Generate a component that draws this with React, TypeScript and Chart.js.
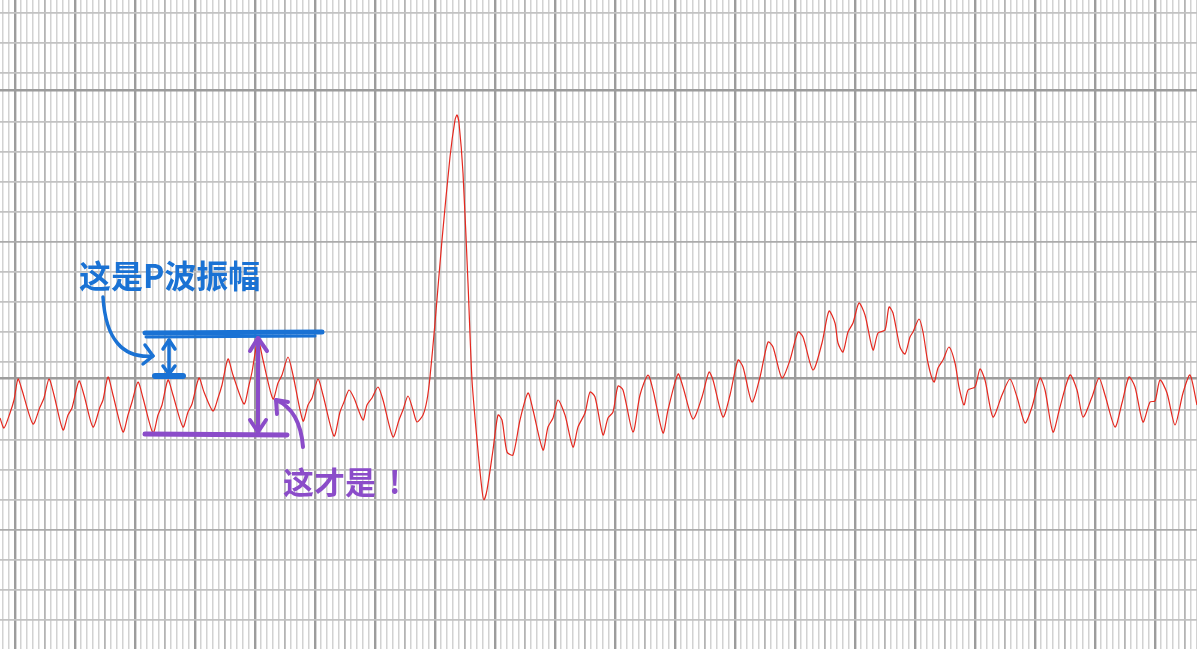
import React, { useEffect, useRef } from "react";
import { Chart, registerables } from "chart.js";

Chart.register(...registerables);

// ECG trace: sample index (150 Hz, 6 samples = one small box) and amplitude (arbitrary units)
const sampleIndex = [
  -15, -11, -5, -1, 3, 7, 18, 25, 29, 34, 39, 48, 53, 57, 64, 69, 78, 85, 88, 93,
  98, 108, 113, 117, 123, 128, 138, 143, 147, 153, 158, 168, 173, 177, 184, 189, 198, 203, 207, 213,
  218, 229, 234, 237, 243, 248, 258, 263, 267, 273, 278, 288, 293, 297, 303, 308, 319, 325, 329, 334,
  339, 348, 352, 357, 363, 368, 378, 384, 388, 393, 398, 402, 408, 412, 415, 420, 427, 435, 440, 442,
  444, 448, 453, 457, 462, 467, 469, 472, 478, 483, 487, 492, 498, 505, 513, 518, 528, 533, 538, 543,
  550, 558, 563, 570, 575, 580, 588, 593, 598, 603, 608, 618, 625, 633, 638, 648, 653, 663, 668, 678,
  687, 694, 698, 708, 715, 723, 728, 737, 745, 753, 758, 767, 775, 783, 788, 798, 807, 814, 820, 823,
  828, 833, 838, 844, 850, 858, 863, 870, 874, 878, 885, 890, 895, 898, 904, 908, 913, 919, 923, 928,
  934, 940, 944, 949, 953, 960, 965, 970, 978, 987, 995, 1002, 1010, 1017, 1025, 1030, 1038, 1045, 1055, 1062,
  1068, 1077, 1084, 1090, 1100, 1107, 1114, 1120, 1128, 1135, 1140, 1145, 1152, 1160, 1168, 1175, 1182,
];
const amplitude = [
  -40, -50, -35, -22, -1, -12, -46, -29, -20, -1, -17, -52, -37, -30, -3, -17, -49, -29, -22, 1,
  -17, -54, -37, -24, -4, -20, -55, -37, -27, -2, -17, -49, -34, -26, 0, -14, -33, -20, -7, 19,
  3, -26, -7, 6, 38, 18, -21, -5, 3, 21, 3, -43, -27, -20, -1, -17, -58, -34, -24, -12,
  -20, -42, -27, -20, -9, -22, -59, -42, -32, -18, -32, -44, -37, -22, 1, 55, 138, 221, 258, 263,
  255, 205, 95, -2, -62, -112, -122, -112, -72, -37, -42, -74, -77, -42, -15, -32, -72, -49, -40, -22,
  -37, -69, -49, -35, -14, -19, -57, -40, -34, -8, -12, -54, -17, 3, -12, -55, -32, 4, -9, -41,
  -19, 6, -2, -39, -17, 18, 11, -24, 1, 36, 31, 0, 18, 46, 41, 8, 35, 67, 55, 35,
  26, 46, 55, 75, 63, 28, 45, 48, 71, 65, 31, 24, 41, 46, 59, 46, 15, -4, 10, 18,
  31, 15, -9, -27, -12, -9, 9, -2, -39, -17, -1, -19, -45, -29, 0, -12, -54, -29, 3, -12,
  -39, -19, 0, -17, -49, -25, 1, -9, -44, -24, -23, -2, -15, -47, -15, 3, -27,
];

// grid (tick) values
const X_MIN = -15;
const X_MAX = 1182;
const Y_MIN = -271;
const Y_MAX = 378;
const smallBox = 6; // samples per small box
const xGridTicks: number[] = [];
for (let v = -12; v <= 1182; v += smallBox) xGridTicks.push(v);
const yGridDark = [0, 288];
const yGridMedium = [136, -152];
const yGridLight = [365, 335, 305, 256, 226, 196, 166, 106, 76, 46, 16, -32, -62, -92, -122, -182, -212, -242];

const BLUE = "#1a72d4";
const PURPLE = "#8b4cc9";

const annotationPlugin = {
  id: "handNotes",
  afterDatasetsDraw(chart: any) {
    const { ctx, scales } = chart;
    const X = (v: number) => scales.x.getPixelForValue(v);
    const Y = (v: number) => scales.y.getPixelForValue(v);
    ctx.save();
    ctx.lineCap = "round";
    ctx.lineJoin = "round";

    const line = (pts: number[][], color: string, w: number) => {
      ctx.strokeStyle = color;
      ctx.lineWidth = w;
      ctx.beginPath();
      pts.forEach((p, i) => (i ? ctx.lineTo(X(p[0]), Y(p[1])) : ctx.moveTo(X(p[0]), Y(p[1]))));
      ctx.stroke();
    };
    const curve = (s: number[], c: number[], e: number[], color: string, w: number) => {
      ctx.strokeStyle = color;
      ctx.lineWidth = w;
      ctx.beginPath();
      ctx.moveTo(X(s[0]), Y(s[1]));
      ctx.quadraticCurveTo(X(c[0]), Y(c[1]), X(e[0]), Y(e[1]));
      ctx.stroke();
    };

    // blue: amplitude lines
    line([[130, 45], [307, 46]], BLUE, 5);
    line([[131, 41], [300, 42]], BLUE, 3);
    line([[154, 38], [154, 4]], BLUE, 3.5);
    line([[148, 29], [154, 38], [160, 29]], BLUE, 3.5);
    line([[148, 12], [154, 4], [160, 12]], BLUE, 3.5);
    line([[140, 2], [168, 2]], BLUE, 6);
    curve([88, 81], [92, 18], [138, 22], BLUE, 3.5);
    line([[130, 33], [138, 22], [128, 14]], BLUE, 3.5);

    // purple: true amplitude
    line([[130, -56], [272, -57]], PURPLE, 5);
    line([[243, 40], [243, -54]], PURPLE, 4);
    line([[235, 27], [243, 40], [252, 27]], PURPLE, 4);
    line([[235, -42], [243, -54], [251, -42]], PURPLE, 4);
    curve([288, -69], [285, -32], [261, -22], PURPLE, 4);
    line([[273, -24], [261, -22], [262, -36]], PURPLE, 4);

    // texts
    ctx.textBaseline = "alphabetic";
    ctx.textAlign = "left";
    ctx.fillStyle = BLUE;
    ctx.font = 'bold 32px "Noto Sans CJK SC", sans-serif';
    ctx.fillText("这是P波振幅", X(64), Y(90));
    ctx.fillStyle = PURPLE;
    ctx.font = 'bold 31px "Noto Sans CJK SC", sans-serif';
    ctx.fillText("这才是", X(268), Y(-116));
    ctx.fillText("!", X(374), Y(-116));
    ctx.restore();
  },
};

export default function App() {
  const ref = useRef<HTMLCanvasElement | null>(null);
  useEffect(() => {
    document.body.style.margin = "0";
    const canvas = ref.current!;
    const chart = new Chart(canvas, {
      type: "line",
      data: {
        datasets: [
          {
            data: sampleIndex.map((x, i) => ({ x, y: amplitude[i] })),
            borderColor: "#e5281f",
            borderWidth: 1.2,
            pointRadius: 0,
            tension: 0.25,
            fill: false,
          },
        ],
      },
      options: {
        animation: false,
        responsive: false,
        devicePixelRatio: 1,
        events: [],
        layout: { padding: 0 },
        plugins: { legend: { display: false }, tooltip: { enabled: false } },
        scales: {
          x: {
            type: "linear",
            min: X_MIN,
            max: X_MAX,
            border: { display: false },
            ticks: { display: false },
            afterBuildTicks: (s: any) => {
              s.ticks = xGridTicks.map((v) => ({ value: v }));
            },
            grid: {
              drawTicks: false,
              tickLength: 0,
              color: (c: any) => {
                const k = Math.abs(Math.round(c.tick.value / smallBox));
                if (k % 10 === 0) return "#9c9c9c";
                if (k % 5 === 0) return "#b4b4b4";
                return "#d2d2d2";
              },
              lineWidth: (c: any) => {
                const k = Math.abs(Math.round(c.tick.value / smallBox));
                if (k % 10 === 0) return 2.4;
                if (k % 5 === 0) return 1.8;
                return 1.5;
              },
            },
          },
          y: {
            type: "linear",
            min: Y_MIN,
            max: Y_MAX,
            border: { display: false },
            ticks: { display: false },
            afterBuildTicks: (s: any) => {
              s.ticks = [...yGridDark, ...yGridMedium, ...yGridLight].map((v) => ({ value: v }));
            },
            grid: {
              drawTicks: false,
              tickLength: 0,
              color: (c: any) => {
                const v = c.tick.value;
                if (yGridDark.includes(v)) return "#9c9c9c";
                if (yGridMedium.includes(v)) return "#ababab";
                return "#c2c2c2";
              },
              lineWidth: (c: any) => {
                const v = c.tick.value;
                if (yGridDark.includes(v)) return 2.4;
                return 1.8;
              },
            },
          },
        },
      },
      plugins: [annotationPlugin],
    } as any);
    return () => chart.destroy();
  }, []);
  return (
    <div style={{ width: 1197, height: 649, background: "#ffffff" }}>
      <canvas ref={ref} width={1197} height={649} style={{ display: "block" }} />
    </div>
  );
}
